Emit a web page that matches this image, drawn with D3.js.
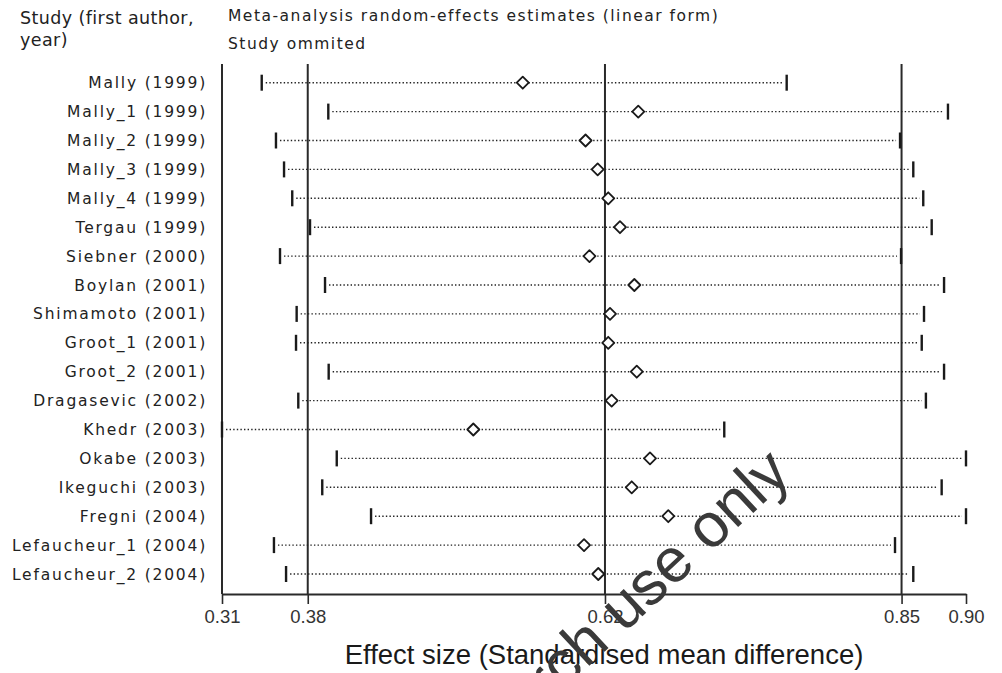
<!DOCTYPE html>
<html>
<head>
<meta charset="utf-8">
<script src="https://cdn.jsdelivr.net/npm/d3@7"></script>
<style>
  html, body { margin: 0; padding: 0; background: #ffffff; }
  svg { display: block; }
</style>
</head>
<body>
<svg id="chart" width="1002" height="673"></svg>
<script>
// ---------- data ----------
const studies = [
  "Mally (1999)", "Mally_1 (1999)", "Mally_2 (1999)", "Mally_3 (1999)", "Mally_4 (1999)",
  "Tergau (1999)", "Siebner (2000)", "Boylan (2001)", "Shimamoto (2001)", "Groot_1 (2001)",
  "Groot_2 (2001)", "Dragasevic (2002)", "Khedr (2003)", "Okabe (2003)", "Ikeguchi (2003)",
  "Fregni (2004)", "Lefaucheur_1 (2004)", "Lefaucheur_2 (2004)"
];
const estimate = [0.5485, 0.6401, 0.5983, 0.6079, 0.6163, 0.6256, 0.6014, 0.6370, 0.6177,
  0.6163, 0.6389, 0.6190, 0.5093, 0.6494, 0.6349, 0.6639, 0.5971, 0.6084];
const lower = [0.3415, 0.3943, 0.3528, 0.3592, 0.3657, 0.3798, 0.3560, 0.3917, 0.3692,
  0.3687, 0.3946, 0.3705, 0.3100, 0.4010, 0.3895, 0.4282, 0.3512, 0.3608];
const upper = [0.7578, 0.8857, 0.8477, 0.8582, 0.8661, 0.8728, 0.8485, 0.8826, 0.8667,
  0.8649, 0.8826, 0.8682, 0.7083, 0.9000, 0.8807, 0.9000, 0.8437, 0.8582];
const axisDomain = [0.31, 0.90];
const refLines = [0.31, 0.378, 0.6137, 0.8489];
const tickValues = [0.31, 0.378, 0.6137, 0.8489, 0.90];
const tickLabels = ["0.31", "0.38", "0.62", "0.85", "0.90"];
const headerLeft = ["Study (first author,", "year)"];
const headerRight = ["Meta-analysis random-effects estimates (linear form)", "Study ommited"];
const xTitle = "Effect size (Standardised mean difference)";
const watermark = "For research use only";

// ---------- layout ----------
const svg = d3.select("#chart");
const plotTop = 64, axisY = 594;
const x = d3.scaleLinear().domain(axisDomain).range([222, 966]);
const y = d3.scalePoint().domain(studies).range([82.7, 574]);
const ink = "#222";
const labelFont = "'DejaVu Sans', Verdana, sans-serif";

// headers
svg.append("g").selectAll("text").data(headerLeft).join("text")
  .attr("x", 20).attr("y", (d, i) => 24 + i * 22)
  .attr("font-family", labelFont).attr("font-size", 17.5)
  .attr("letter-spacing", 0.4)
  .attr("fill", ink).text(d => d);
svg.append("g").selectAll("text").data(headerRight).join("text")
  .attr("x", 228).attr("y", (d, i) => 21 + i * 28)
  .attr("font-family", labelFont).attr("font-size", 15.5)
  .attr("letter-spacing", 1.5)
  .attr("fill", ink).text(d => d);

// row labels
svg.append("g").selectAll("text").data(studies).join("text")
  .attr("x", 207).attr("y", d => y(d) + 5.5)
  .attr("text-anchor", "end")
  .attr("font-family", labelFont).attr("font-size", 15.5)
  .attr("letter-spacing", 1.8)
  .attr("fill", ink).text(d => d);

// reference vertical lines
svg.append("g").selectAll("line").data(refLines).join("line")
  .attr("x1", d => x(d)).attr("x2", d => x(d))
  .attr("y1", plotTop).attr("y2", axisY)
  .attr("stroke", "#2a2a2a").attr("stroke-width", 2);

// axis
const axis = d3.axisBottom(x)
  .tickValues(tickValues)
  .tickFormat((d, i) => tickLabels[i])
  .tickSize(10).tickSizeOuter(0).tickPadding(6);
const gAxis = svg.append("g").attr("transform", `translate(0,${axisY})`).call(axis);
gAxis.select(".domain").attr("stroke", "#2a2a2a").attr("stroke-width", 2);
gAxis.selectAll(".tick line").attr("stroke", "#2a2a2a").attr("stroke-width", 1.6);
gAxis.selectAll(".tick text")
  .attr("font-family", "'Liberation Sans', Arial, sans-serif")
  .attr("font-size", 18.5).attr("fill", "#333");

// axis title
svg.append("text")
  .attr("x", 604).attr("y", 664)
  .attr("text-anchor", "middle")
  .attr("font-family", "'Liberation Sans', Arial, sans-serif")
  .attr("font-size", 27.5).attr("fill", "#1a1a1a")
  .text(xTitle);

// rows
const rows = svg.append("g").selectAll("g").data(studies).join("g");
rows.append("line")
  .attr("x1", (d, i) => x(lower[i]) + 4).attr("x2", (d, i) => x(upper[i]) - 4)
  .attr("y1", d => y(d)).attr("y2", d => y(d))
  .attr("stroke", "#222").attr("stroke-width", 1.4)
  .attr("stroke-dasharray", "1.4,2.2");
rows.append("line")
  .attr("x1", (d, i) => x(lower[i])).attr("x2", (d, i) => x(lower[i]))
  .attr("y1", d => y(d) - 8).attr("y2", d => y(d) + 8)
  .attr("stroke", "#1a1a1a").attr("stroke-width", 2.4);
rows.append("line")
  .attr("x1", (d, i) => x(upper[i])).attr("x2", (d, i) => x(upper[i]))
  .attr("y1", d => y(d) - 8).attr("y2", d => y(d) + 8)
  .attr("stroke", "#1a1a1a").attr("stroke-width", 2.4);
rows.append("path")
  .attr("transform", (d, i) => `translate(${x(estimate[i])},${y(d)})`)
  .attr("d", "M0,-6 L6,0 L0,6 L-6,0 Z")
  .attr("fill", "#fff").attr("stroke", "#1a1a1a").attr("stroke-width", 1.8)
  .attr("stroke-linejoin", "round");

// watermark
svg.append("text")
  .attr("transform", "translate(793,476) rotate(-43)")
  .attr("text-anchor", "end")
  .attr("font-family", "'Liberation Sans', Arial, sans-serif")
  .attr("font-size", 62).attr("fill", "#3a3a3a")
  .text(watermark);
</script>
</body>
</html>
